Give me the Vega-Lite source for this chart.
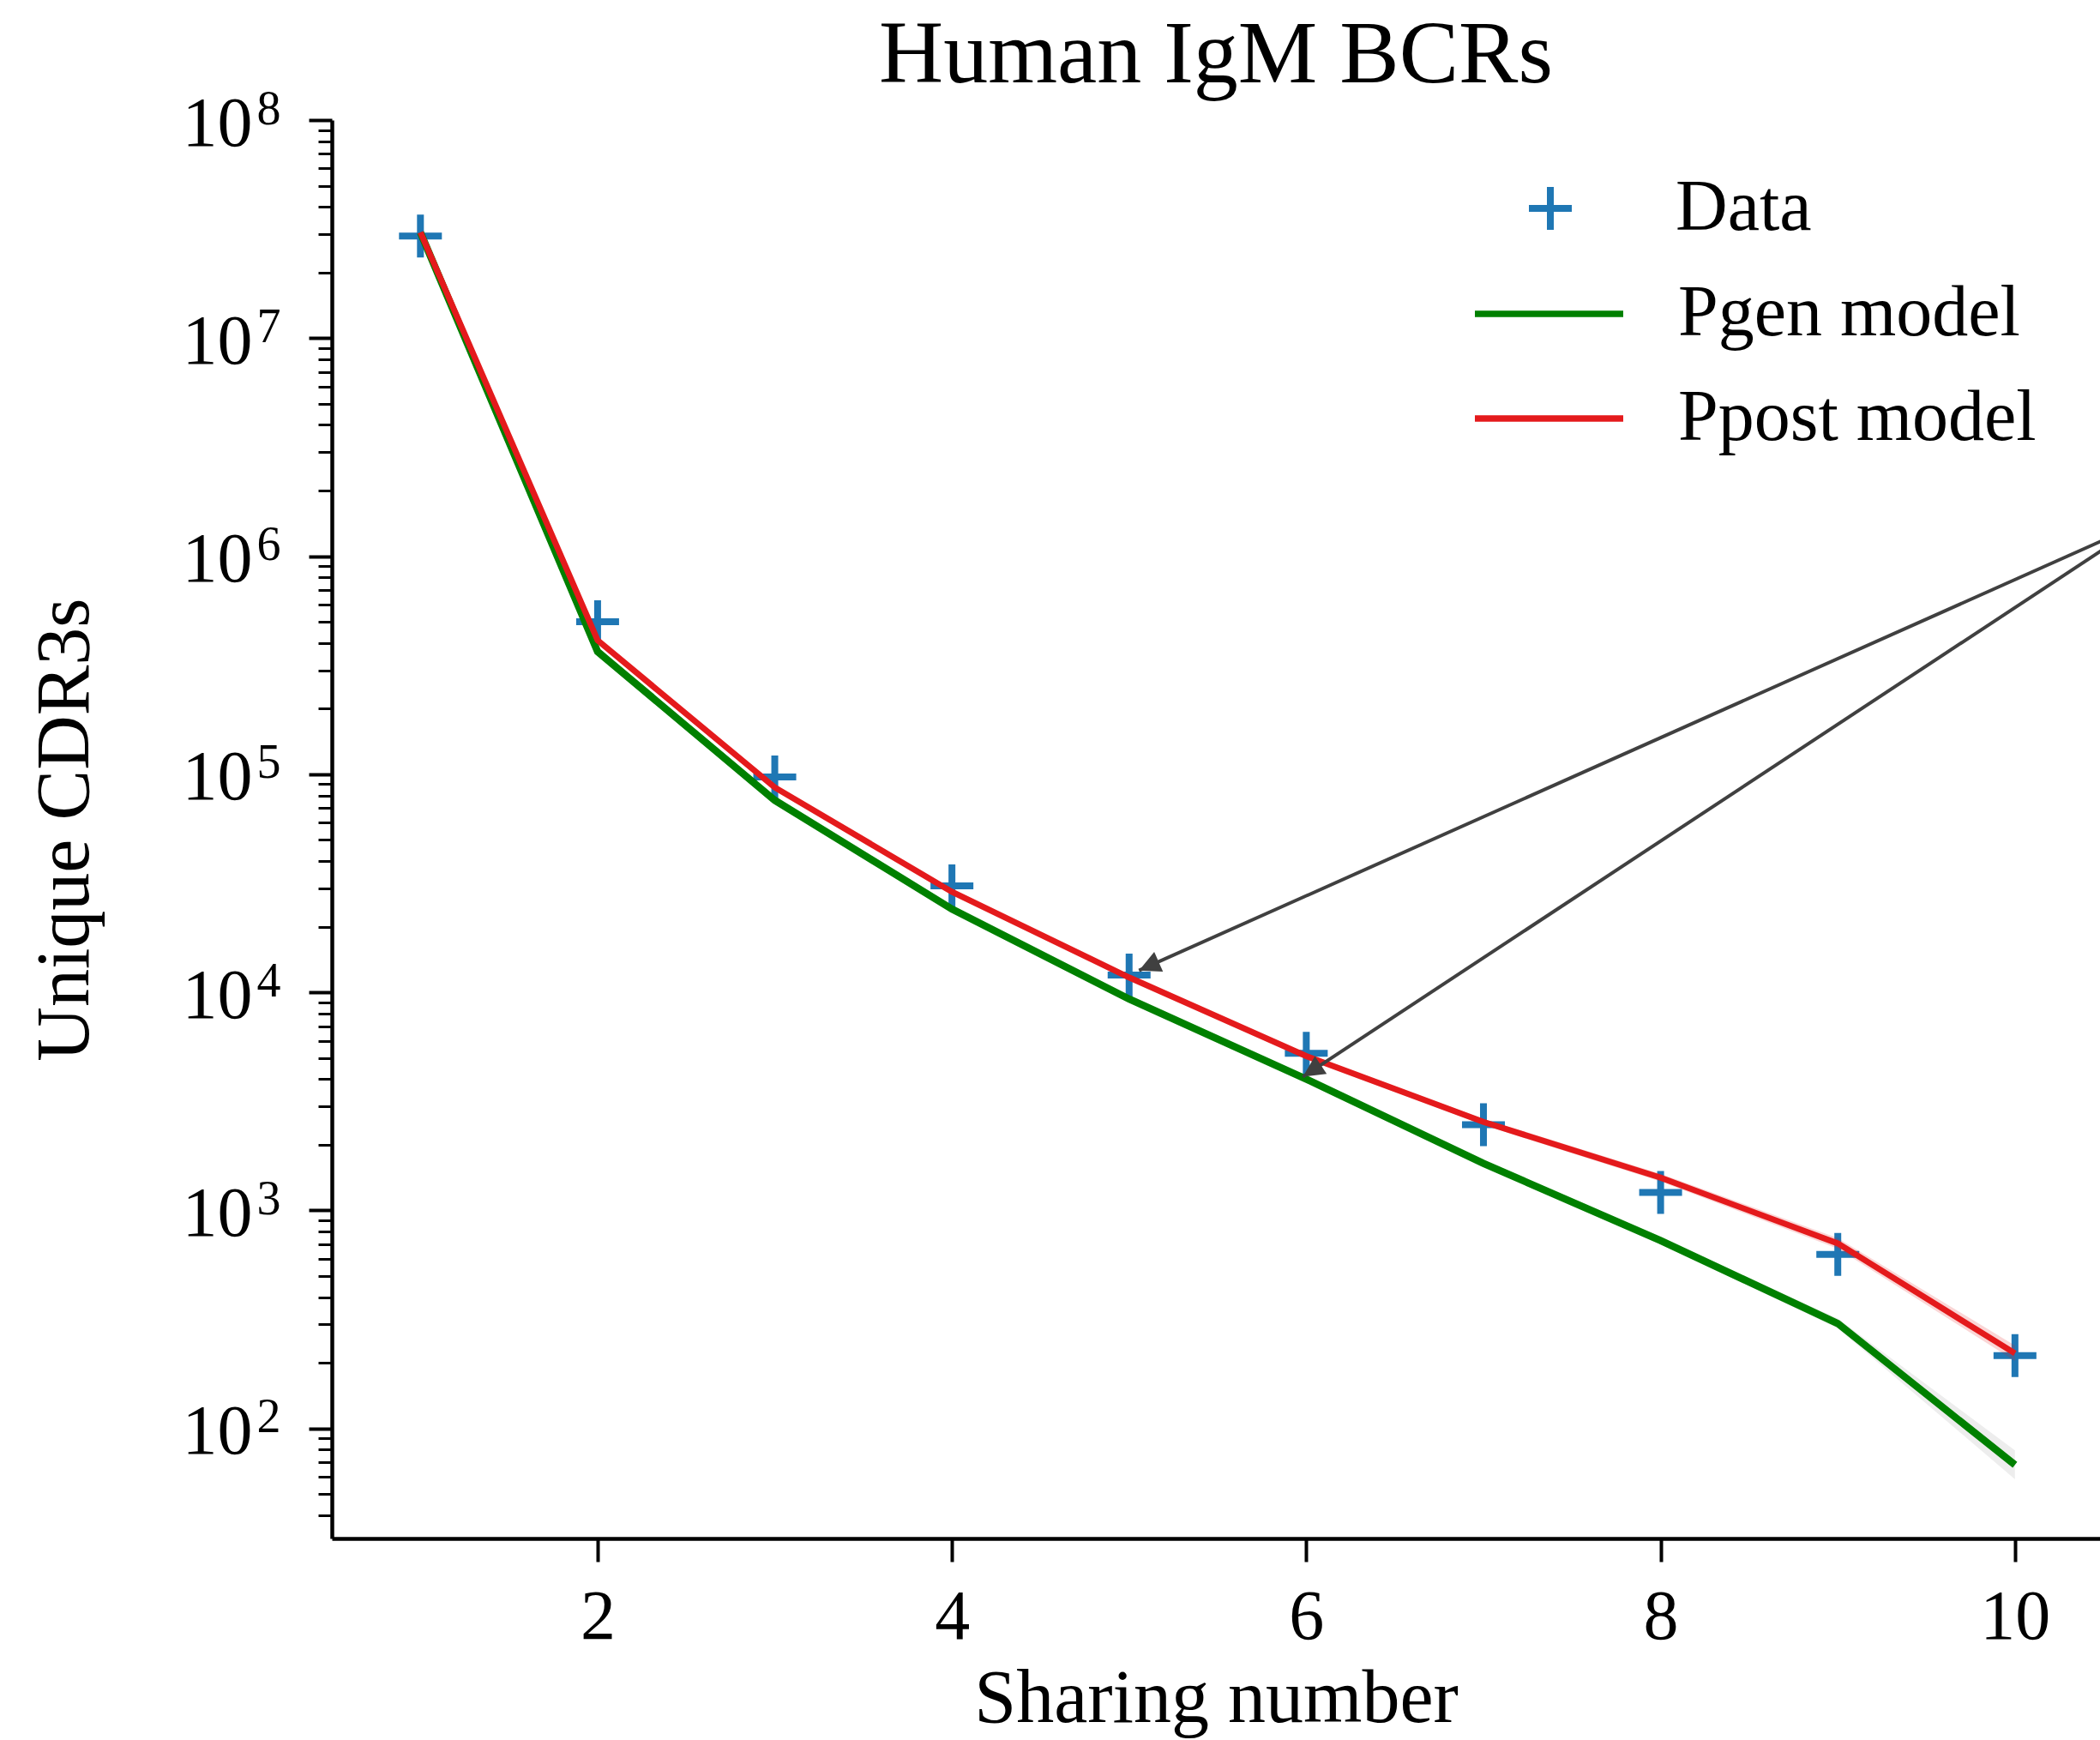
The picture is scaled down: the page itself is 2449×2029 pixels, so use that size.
{
  "$schema": "https://vega.github.io/schema/vega-lite/v6.json",
  "width": 2062,
  "height": 1654,
  "autosize": {"type": "none"},
  "padding": {"left": 387, "top": 140, "right": 0, "bottom": 235},
  "background": "white",
  "config": {
    "font": "Liberation Serif",
    "view": {"stroke": null},
    "axis": {"grid": false, "domainColor": "black", "domainWidth": 4.5, "tickColor": "black", "labelColor": "black", "titleColor": "black", "labelFont": "Liberation Serif", "titleFont": "Liberation Serif", "titleFontWeight": "normal"},
    "legend": {"labelFont": "Liberation Serif", "labelColor": "black", "labelFontSize": 84, "labelLimit": 2000, "title": null, "padding": 0, "rowPadding": 0, "clipHeight": 122}
  },
  "title": {"text": "Human IgM BCRs", "font": "Liberation Serif", "fontSize": 104, "fontWeight": "normal", "color": "black", "anchor": "middle", "frame": "group", "baseline": "alphabetic", "offset": 0, "dy": 101},
  "datasets": {
    "pts": [
      {"x": 1, "y": 29400000, "series": "Data"},
      {"x": 2, "y": 500000, "series": "Data"},
      {"x": 3, "y": 97200, "series": "Data"},
      {"x": 4, "y": 30800, "series": "Data"},
      {"x": 5, "y": 12000, "series": "Data"},
      {"x": 6, "y": 5250, "series": "Data"},
      {"x": 7, "y": 2470, "series": "Data"},
      {"x": 8, "y": 1210, "series": "Data"},
      {"x": 9, "y": 629, "series": "Data"},
      {"x": 10, "y": 216, "series": "Data"}
    ],
    "gen": [
      {"x": 1, "y": 30500000, "lo": 30360000, "hi": 30640000, "series": "Pgen model"},
      {"x": 2, "y": 365000, "lo": 362500, "hi": 367500, "series": "Pgen model"},
      {"x": 3, "y": 76000, "lo": 75300, "hi": 76700, "series": "Pgen model"},
      {"x": 4, "y": 24100, "lo": 23820, "hi": 24380, "series": "Pgen model"},
      {"x": 5, "y": 9320, "lo": 9190, "hi": 9450, "series": "Pgen model"},
      {"x": 6, "y": 4000, "lo": 3927, "hi": 4074, "series": "Pgen model"},
      {"x": 7, "y": 1643, "lo": 1606, "hi": 1681, "series": "Pgen model"},
      {"x": 8, "y": 727, "lo": 704, "hi": 751, "series": "Pgen model"},
      {"x": 9, "y": 303, "lo": 288, "hi": 319, "series": "Pgen model"},
      {"x": 10, "y": 68.1, "lo": 58.5, "hi": 79.3, "series": "Pgen model"}
    ],
    "post": [
      {"x": 1, "y": 30600000, "lo": 30460000, "hi": 30740000, "series": "Ppost model"},
      {"x": 2, "y": 411500, "lo": 408700, "hi": 414300, "series": "Ppost model"},
      {"x": 3, "y": 87000, "lo": 86200, "hi": 87800, "series": "Ppost model"},
      {"x": 4, "y": 28900, "lo": 28570, "hi": 29240, "series": "Ppost model"},
      {"x": 5, "y": 11700, "lo": 11510, "hi": 11890, "series": "Ppost model"},
      {"x": 6, "y": 5100, "lo": 4984, "hi": 5219, "series": "Ppost model"},
      {"x": 7, "y": 2546, "lo": 2465, "hi": 2630, "series": "Ppost model"},
      {"x": 8, "y": 1413, "lo": 1356, "hi": 1473, "series": "Ppost model"},
      {"x": 9, "y": 706, "lo": 668, "hi": 746, "series": "Ppost model"},
      {"x": 10, "y": 221, "lo": 204, "hi": 240, "series": "Ppost model"}
    ],
    "arrows": [
      {"x": 10.742, "y": 1451000, "x2": 5.056, "y2": 12600, "t": 5},
      {"x": 10.742, "y": 1451000, "x2": 5.981, "y2": 4100, "t": 6}
    ]
  },
  "resolve": {"axis": {"y": "independent"}},
  "layer": [
    {
      "data": {"name": "pts"},
      "mark": {"type": "point", "size": 2500, "filled": false, "strokeWidth": 8, "opacity": 1, "strokeCap": "butt", "color": "#1f77b4"},
      "encoding": {
        "x": {"field": "x", "type": "quantitative", "title": "Sharing number",
          "scale": {"domain": [0.5, 10.48], "nice": false, "zero": false},
          "axis": {"values": [2, 4, 6, 8, 10], "format": "d", "tickSize": 27, "tickWidth": 4, "labelFontSize": 82, "labelPadding": 24, "labelFlush": false, "labelOverlap": false, "titleFontSize": 88, "titleX": 1031, "titleY": 213, "titleBaseline": "alphabetic", "titleAlign": "center", "titleAnchor": null}},
        "y": {"field": "y", "type": "quantitative", "title": "Unique CDR3s",
          "scale": {"type": "log", "domain": [31.3, 100000000], "nice": false},
          "axis": {"orient": "left", "values": [100, 1000, 10000, 100000, 1000000, 10000000, 100000000], "tickSize": 27, "tickWidth": 4, "labelFontSize": 82, "labelPadding": 66, "labelOffset": 4, "labelOverlap": false, "labelExpr": "'10'", "titleFontSize": 88, "titleAngle": 270, "titleBaseline": "alphabetic", "titleAlign": "center", "titleX": -285, "titleY": 827}},
        "shape": {"field": "series", "type": "nominal",
          "scale": {"domain": ["Data"], "range": ["M-1,0H1M0,-1V1"]},
          "legend": {"orient": "none", "legendX": 1379, "legendY": 42, "symbolSize": 2500, "symbolStrokeWidth": 8, "symbolStrokeColor": "#1f77b4", "symbolFillColor": "transparent", "symbolOpacity": 1, "labelOffset": 104}}
      }
    },
    {
      "data": {"name": "gen"},
      "mark": {"type": "area", "color": "#000000", "opacity": 0.07},
      "encoding": {
        "x": {"field": "x", "type": "quantitative", "title": "Sharing number"},
        "y": {"field": "lo", "type": "quantitative",
          "axis": {"orient": "left", "values": [40,50,60,70,80,90,200,300,400,500,600,700,800,900,2000,3000,4000,5000,6000,7000,8000,9000,20000,30000,40000,50000,60000,70000,80000,90000,200000,300000,400000,500000,600000,700000,800000,900000,2000000,3000000,4000000,5000000,6000000,7000000,8000000,9000000,20000000,30000000,40000000,50000000,60000000,70000000,80000000,90000000], "labels": false, "domain": false, "title": null, "tickSize": 16, "tickWidth": 3, "grid": false}},
        "y2": {"field": "hi"}
      }
    },
    {
      "data": {"name": "post"},
      "mark": {"type": "area", "color": "#e41a1c", "opacity": 0.18},
      "encoding": {
        "x": {"field": "x", "type": "quantitative", "title": "Sharing number"},
        "y": {"field": "lo", "type": "quantitative",
          "axis": {"orient": "left", "values": [100, 1000, 10000, 100000, 1000000, 10000000, 100000000], "domain": false, "ticks": true, "tickSize": 27, "tickWidth": 0, "tickOpacity": 0, "title": null, "grid": false, "labelFontSize": 56, "labelPadding": 33, "labelOffset": -13, "labelOverlap": false, "labelExpr": "'' + round(log(datum.value)/LN10)"}},
        "y2": {"field": "hi"}
      }
    },
    {
      "data": {"name": "gen"},
      "mark": {"type": "line", "strokeWidth": 8.5, "strokeJoin": "miter"},
      "encoding": {
        "x": {"field": "x", "type": "quantitative", "title": "Sharing number"},
        "y": {"field": "y", "type": "quantitative", "axis": null},
        "color": {"field": "series", "type": "nominal",
          "scale": {"domain": ["Pgen model", "Ppost model"], "range": ["#008000", "#e41a1c"]},
          "legend": {"orient": "none", "legendX": 1329, "legendY": 165, "symbolType": "stroke", "symbolSize": 29929, "symbolStrokeWidth": 7.5, "symbolOpacity": 1, "labelOffset": 60}}
      }
    },
    {
      "data": {"name": "post"},
      "mark": {"type": "line", "strokeWidth": 7, "strokeJoin": "miter"},
      "encoding": {
        "x": {"field": "x", "type": "quantitative", "title": "Sharing number"},
        "y": {"field": "y", "type": "quantitative", "axis": null},
        "color": {"field": "series", "type": "nominal"}
      }
    },
    {
      "mark": {"type": "rule", "color": "black", "strokeWidth": 4.5},
      "encoding": {
        "y": {"datum": 100000000, "type": "quantitative", "axis": null}
      }
    },
    {
      "data": {"name": "arrows"},
      "mark": {"type": "rule", "color": "#404040", "strokeWidth": 4},
      "encoding": {
        "x": {"field": "x", "type": "quantitative", "title": "Sharing number"},
        "x2": {"field": "x2"},
        "y": {"field": "y", "type": "quantitative", "axis": null},
        "y2": {"field": "y2"}
      }
    },
    {
      "data": {"name": "arrows"},
      "transform": [{"filter": "datum.t == 5"}],
      "mark": {"type": "point", "shape": "M0,0L-1,2L1,2Z", "size": 625, "filled": true, "color": "#404040", "opacity": 1, "strokeWidth": 0, "angle": 246},
      "encoding": {
        "x": {"field": "x2", "type": "quantitative", "title": "Sharing number"},
        "y": {"field": "y2", "type": "quantitative", "axis": null}
      }
    },
    {
      "data": {"name": "arrows"},
      "transform": [{"filter": "datum.t == 6"}],
      "mark": {"type": "point", "shape": "M0,0L-1,2L1,2Z", "size": 625, "filled": true, "color": "#404040", "opacity": 1, "strokeWidth": 0, "angle": 236.6},
      "encoding": {
        "x": {"field": "x2", "type": "quantitative", "title": "Sharing number"},
        "y": {"field": "y2", "type": "quantitative", "axis": null}
      }
    }
  ]
}
